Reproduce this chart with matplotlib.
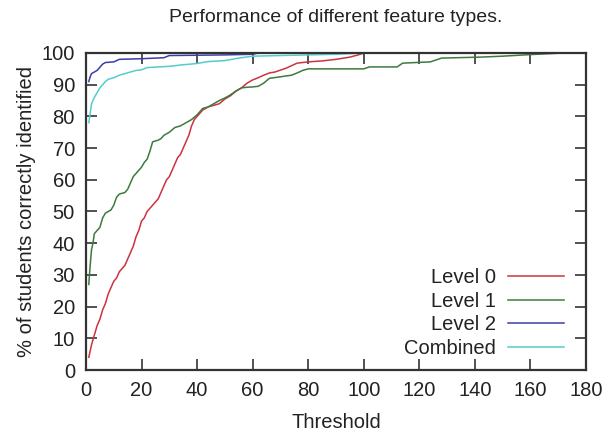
import numpy as np
import matplotlib
matplotlib.use("Agg")
import matplotlib.pyplot as plt

plt.rcParams["font.family"] = ["Liberation Sans", "DejaVu Sans"]

# values (threshold -> % identified)
L0_X = [1, 2, 3, 4, 5, 6, 7, 8, 9, 10, 11, 12, 13, 14, 15, 16, 17, 18, 19, 20,
        21, 22, 23, 24, 25, 26, 27, 28, 29, 30, 31, 32, 33, 34, 35, 36, 37, 38, 39, 40,
        42, 44, 46, 48, 50, 52, 54, 56, 58, 60, 62, 64, 66, 68, 70, 72, 74, 76, 78, 80,
        85, 90, 95, 98, 100, 163]
L0_Y = [4, 8, 11, 14, 16, 19, 21, 24, 26, 28, 29, 31, 32, 33, 35, 37, 39, 42, 44, 47,
        48, 50, 51, 52, 53, 54, 56, 58, 60, 61, 63, 65, 67, 68, 70, 72, 74, 77, 79, 80,
        82, 83, 83.5, 84, 85.5, 86.5, 88, 89, 90.5, 91.5, 92.2, 93, 93.7, 94, 94.6, 95.2,
        96, 96.8, 97, 97.2, 97.5, 98, 98.7, 99.4, 100, 100]

L1_X = [1, 1.5, 2, 2.5, 3, 4, 5, 6, 7, 8, 9, 10, 11, 12, 14, 15, 16, 17, 18, 19, 20,
        21, 22, 23, 24, 26, 27, 28, 30, 32, 34, 36, 38, 40, 42, 44, 46, 48, 50, 52, 54,
        56, 58, 60, 62, 64, 66, 70, 74, 76, 78, 80, 100, 102, 112, 114, 124, 128, 142,
        150, 160, 172]
L1_Y = [27, 33, 38, 40, 43, 44, 45, 48, 49.5, 50, 50.5, 52, 54.5, 55.5, 56, 57, 59, 61,
        62, 63, 64, 65.5, 66.5, 69, 72, 72.5, 73, 74, 75, 76.5, 77, 78, 79, 80.5, 82.5,
        83, 84, 85, 85.8, 86.8, 88, 89, 89.2, 89.3, 89.5, 90.5, 92, 92.5, 93, 93.7, 94.5,
        95, 95, 95.6, 95.6, 96.8, 97.2, 98.4, 98.7, 99, 99.5, 100]

L2_X = [1, 1.5, 2, 3, 4, 5, 6, 7, 10, 12, 20, 28, 30, 40, 50, 60, 62, 163]
L2_Y = [91, 92.5, 93.5, 94, 94.5, 95.5, 96.5, 97, 97.2, 98, 98.2, 98.5, 99.2, 99.3,
        99.4, 99.6, 100, 100]

CB_X = [1, 1.5, 2, 3, 4, 5, 6, 7, 8, 10, 12, 14, 16, 18, 20, 22, 26, 30, 34, 40, 44,
        50, 55, 60, 70, 80, 90, 100, 163]
CB_Y = [78, 81, 84, 86, 87.5, 89, 90, 91, 91.7, 92.2, 93, 93.5, 94, 94.5, 94.7, 95.4,
        95.6, 95.8, 96.2, 96.7, 97.3, 97.6, 98.4, 99, 99.2, 99.4, 99.6, 100, 100]

SERIES = [("Level 0", L0_X, L0_Y, "#cc3340"),
          ("Level 1", L1_X, L1_Y, "#3d7a3d"),
          ("Level 2", L2_X, L2_Y, "#3c3caa"),
          ("Combined", CB_X, CB_Y, "#55cccc")]

XTICKS = np.arange(0, 181, 20)
YTICKS = np.arange(0, 101, 10)
FS = 14.5
INK = "#222222"

fig = plt.figure(figsize=(6.11, 4.36), dpi=100)
ax = fig.add_axes([86 / 611, 1 - 370 / 436, 500 / 611, 317 / 436])

for name, xs, ys, col in SERIES:
    ax.plot(xs, ys, color=col, lw=1.1, label=name)

ax.set_xlim(0, 180)
ax.set_ylim(0, 100)
ax.set_xticks(XTICKS)
ax.set_yticks(YTICKS)
ax.tick_params(direction="in", length=8, width=1.2, color="#333333",
               top=True, right=True, labelsize=FS, labelcolor=INK, pad=8)
for s in ax.spines.values():
    s.set_linewidth(1.6)
    s.set_color("#333333")

ax.set_xlabel("Threshold", fontsize=FS, color=INK, labelpad=9)
ax.set_ylabel("% of students correctly identified", fontsize=FS, color=INK, labelpad=4)
# title is centred over the plot area
fig.text(336 / 611, 1 - 17 / 436, "Performance of different feature types.",
         ha="center", va="center", fontsize=14, color=INK)

leg = ax.legend(loc="lower right", markerfirst=False, frameon=False, fontsize=FS,
                handlelength=2.8, labelspacing=0.23, handletextpad=0.6,
                borderaxespad=0.3, bbox_to_anchor=(0.985, -0.007))
for t in leg.get_texts():
    t.set_color(INK)

fig.savefig("out.png", dpi=100)
plt.close(fig)
